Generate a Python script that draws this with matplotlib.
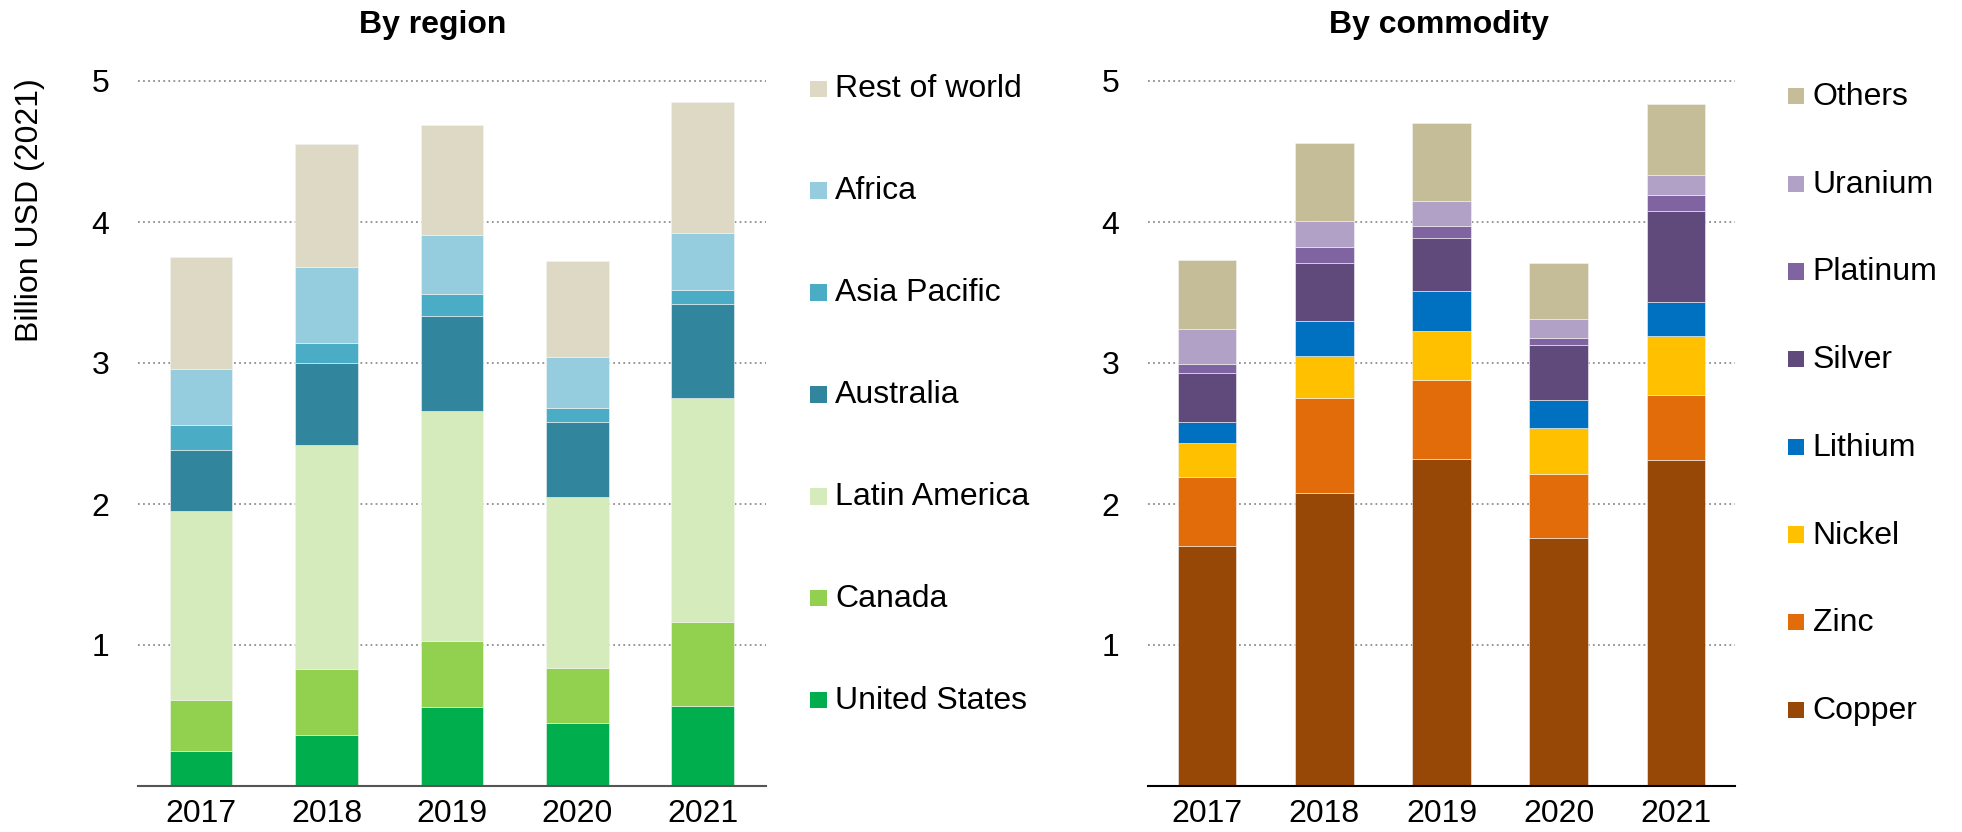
import matplotlib.pyplot as plt
from matplotlib.patches import Rectangle
import numpy as np

plt.rcParams['font.family'] = ['Liberation Sans', 'DejaVu Sans']

years = ['2017', '2018', '2019', '2020', '2021']

# By region (billion USD 2021), bottom to top
region_names = ['United States', 'Canada', 'Latin America', 'Australia',
                'Asia Pacific', 'Africa', 'Rest of world']
united_states = [0.25, 0.36, 0.56, 0.45, 0.57]
canada = [0.36, 0.47, 0.47, 0.39, 0.59]
latin_america = [1.34, 1.59, 1.63, 1.21, 1.59]
australia = [0.43, 0.58, 0.67, 0.53, 0.67]
asia_pacific = [0.18, 0.14, 0.16, 0.10, 0.10]
africa = [0.40, 0.54, 0.42, 0.36, 0.40]
rest_of_world = [0.79, 0.87, 0.78, 0.68, 0.93]
region_colors = ['#00AE4E', '#92D050', '#D5EBBB', '#31859C',
                 '#4BACC6', '#95CDDE', '#DDD9C4']

# By commodity, bottom to top
commodity_names = ['Copper', 'Zinc', 'Nickel', 'Lithium', 'Silver',
                   'Platinum', 'Uranium', 'Others']
copper = [1.70, 2.08, 2.32, 1.76, 2.31]
zinc = [0.49, 0.67, 0.56, 0.45, 0.46]
nickel = [0.24, 0.30, 0.35, 0.33, 0.42]
lithium = [0.15, 0.25, 0.28, 0.20, 0.24]
silver = [0.35, 0.41, 0.38, 0.39, 0.65]
platinum = [0.06, 0.11, 0.08, 0.05, 0.11]
uranium = [0.25, 0.19, 0.18, 0.13, 0.14]
others = [0.49, 0.55, 0.55, 0.40, 0.51]
commodity_colors = ['#974706', '#E36C0A', '#FFC000', '#0070C0',
                    '#604A7B', '#8064A2', '#B2A1C7', '#C4BD97']

region_data = [united_states, canada, latin_america, australia,
               asia_pacific, africa, rest_of_world]
commodity_data = [copper, zinc, nickel, lithium, silver,
                  platinum, uranium, others]

W, H = 1962, 832
FS = 23
fig = plt.figure(figsize=(W / 100, H / 100), dpi=100)

ax1 = fig.add_axes([138.3 / W, 1 - 786 / H, 627.2 / W, (786 - 73.95) / H])
ax2 = fig.add_axes([1148.3 / W, 1 - 786 / H, 586.4 / W, (786 - 73.95) / H])


def stacked(ax, series, colors, base_color):
    x = np.arange(len(years))
    bottom = np.zeros(len(years))
    for vals, c in zip(series, colors):
        ax.bar(x, vals, 0.5, bottom=bottom, color=c, edgecolor='#f4f4f4',
               linewidth=0.4, zorder=3)
        bottom += np.array(vals)
    ax.set_xlim(-0.5, 4.5)
    ax.set_ylim(0, 5.05)
    ax.set_xticks(x)
    ax.set_xticklabels(years)
    ax.set_yticks([1, 2, 3, 4, 5])
    ax.tick_params(axis='both', length=0, labelsize=FS)
    ax.tick_params(axis='y', pad=21)
    ax.tick_params(axis='x', pad=9)
    for s in ['top', 'right', 'left']:
        ax.spines[s].set_visible(False)
    ax.spines['bottom'].set_color(base_color)
    ax.spines['bottom'].set_linewidth(1.5)
    ax.spines['bottom'].set_zorder(4)
    ax.yaxis.grid(True, linestyle=(0, (1, 1.8)), color='#8f8f8f', linewidth=1.3)
    ax.set_axisbelow(True)


stacked(ax1, region_data, region_colors, '#555555')
stacked(ax2, commodity_data, commodity_colors, '#000000')

fig.text(432.5 / W, 1 - 33.3 / H, 'By region', ha='center', va='baseline',
         fontsize=FS, fontweight='bold')
fig.text(1438.7 / W, 1 - 33.3 / H, 'By commodity', ha='center', va='baseline',
         fontsize=FS, fontweight='bold')
fig.text(30 / W, 1 - 210 / H, 'Billion USD (2021)', rotation=90,
         ha='center', va='center', fontsize=FS)


# legends, top entry first
def legend(names, colors, x0, y0, step, off):
    for i, (n, c) in enumerate(zip(names[::-1], colors[::-1])):
        yc = y0 + i * step
        fig.patches.append(Rectangle((x0 / W, 1 - (yc + 8.2) / H), 16.6 / W,
                                     16.4 / H, transform=fig.transFigure,
                                     facecolor=c, edgecolor='none'))
        fig.text((x0 + 25) / W, 1 - (yc + off) / H, n, ha='left',
                 va='baseline', fontsize=FS)


legend(region_names, region_colors, 810, 88.7, 101.9, 8.6)
legend(commodity_names, commodity_colors, 1787.7, 96, 87.7, 9)

fig.savefig('out.png', dpi=100)
